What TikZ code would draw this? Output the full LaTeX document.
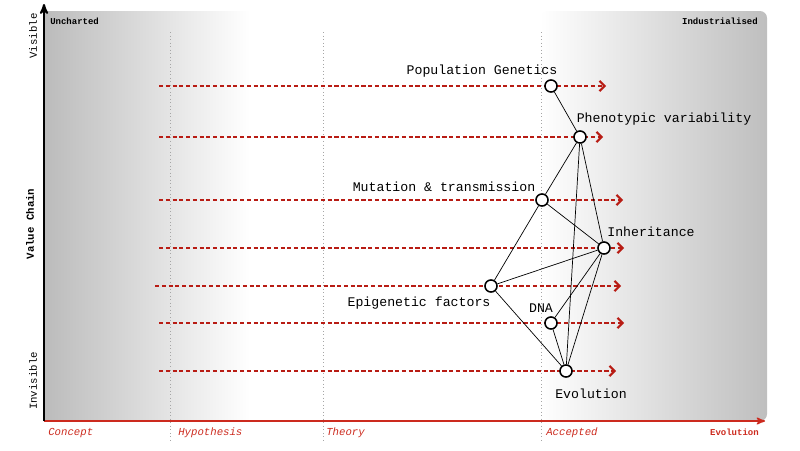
\documentclass[tikz,border=0pt]{standalone}
\usepackage{xcolor}
\usepackage{fontspec}
\setmainfont{Liberation Mono}
\usepackage{tikz}
\usetikzlibrary{arrows, arrows.meta, positioning}
\definecolor{mapred}{HTML}{CC2A1E}
\definecolor{dashred}{HTML}{B81C14}
\definecolor{fadegray}{HTML}{BBBBBB}

\begin{document}
\begin{tikzpicture}[x=0.025cm, y=-0.025cm,
	>=stealth',
	comp/.style={circle, draw=black, fill=white, line width=1.1pt, minimum size=8.6pt, inner sep=0pt},
	lbl/.style={font=\fontsize{9.4}{10}\selectfont, inner sep=0pt},
	trend/.style={-{Straight Barb[length=3.6pt, width=7.4pt, line width=1.5pt]}, dashred, line width=1.4pt, dash pattern=on 2.9pt off 1.9pt},
	link/.style={black, line width=0.5pt},
	stage/.style={font=\fontsize{7.6}{9}\selectfont\itshape, mapred, inner sep=0pt},
	corner/.style={font=\fontsize{6.4}{8}\selectfont\bfseries, inner sep=0pt},
	side/.style={font=\fontsize{7.6}{9}\selectfont, rotate=90, inner sep=0pt}]

	\useasboundingbox (0,0) rectangle (800,450);
	\shade[left color=fadegray, right color=white] (44,11) rectangle (250,421);
	\shade[left color=white, right color=fadegray!95, rounded corners=5pt] (540,11) rectangle (767,421);

	\foreach \n/\x in {hyp/170, theo/323, acc/541} {
		\coordinate (\n top) at (\x,32);
		\coordinate (\n bot) at (\x,441);
		\draw[gray!70, dotted, line width=0.5pt] (\n top) -- (\n bot);
	}

	\coordinate (origin) at (44,421);
	\coordinate (vtop) at (44,4);
	\coordinate (hend) at (765,421);
	\draw[->, mapred, line width=1.1pt] (origin) -- (hend);
	\draw[->, black, line width=1.4pt] (origin) -- (vtop);

	\node[corner, anchor=west] (uncharted) at (50,21) {Uncharted};
	\node[corner, anchor=east] (industrial) at (758,21) {Industrialised};
	\node[side] (visible) at (33,36) {Visible};
	\node[side, font=\fontsize{7.6}{9}\selectfont\bfseries] (chain) at (30,224) {Value Chain};
	\node[side] (invisible) at (33,381) {Invisible};

	\node[stage, anchor=west] (concept) at (48,433) {Concept};
	\node[stage, anchor=west] (hypothesis) at (178,433) {Hypothesis};
	\node[stage, anchor=west] (theory) at (326,433) {Theory};
	\node[stage, anchor=west] (accepted) at (546,433) {Accepted};
	\node[corner, mapred, anchor=east] (evolution) at (759,432) {Evolution};

	\foreach \n/\y/\xa/\xb in {pg/86/159/606, ph/137/159/603, mu/200/159/623, in/248/159/624, ep/286/155/621, dn/323/159/624, ev/371/159/616} {
		\coordinate (\n start) at (\xa,\y);
		\coordinate (\n end) at (\xb,\y);
		\draw[trend] (\n start) -- (\n end);
	}

	\node[comp] (popgen) at (551,86) {};
	\node[comp] (pheno) at (580,137) {};
	\node[comp] (mutation) at (542,200) {};
	\node[comp] (inherit) at (604,248) {};
	\node[comp] (epigen) at (491,286) {};
	\node[comp] (dna) at (551,323) {};
	\node[comp] (evo) at (566,371) {};

	\node[lbl] (popgen label) at (482,71) {Population Genetics};
	\node[lbl] (pheno label) at (664,119) {Phenotypic variability};
	\node[lbl] (mutation label) at (444,187) {Mutation \& transmission};
	\node[lbl] (inherit label) at (651,232) {Inheritance};
	\node[lbl] (epigen label) at (419,303) {Epigenetic factors};
	\node[lbl] (dna label) at (541,308) {DNA};
	\node[lbl] (evo label) at (591,394) {Evolution};

	\draw[link] (popgen) -- (pheno);
	\draw[link] (pheno) -- (mutation);
	\draw[link] (pheno) -- (inherit);
	\draw[link] (pheno) -- (evo);
	\draw[link] (mutation) -- (inherit);
	\draw[link] (mutation) -- (epigen);
	\draw[link] (inherit) -- (epigen);
	\draw[link] (inherit) -- (dna);
	\draw[link] (inherit) -- (evo);
	\draw[link] (epigen) -- (evo);
	\draw[link] (dna) -- (evo);
\end{tikzpicture}
\end{document}
